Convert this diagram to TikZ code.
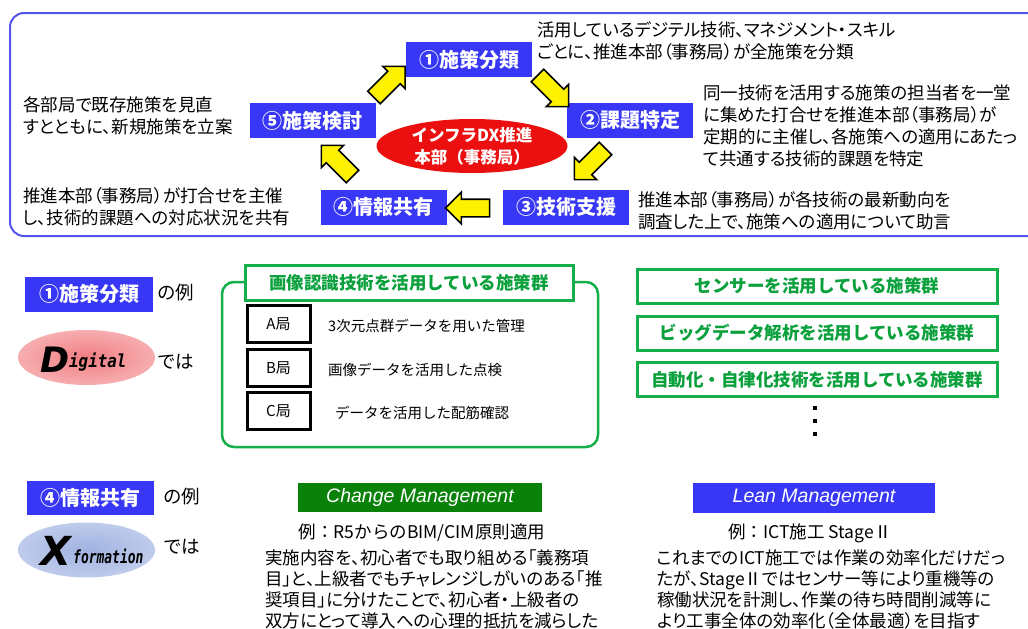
\documentclass[tikz,border=0pt]{standalone}
\usepackage{fontspec}
\usetikzlibrary{shapes.geometric,shapes.arrows}
\setmainfont{Noto Sans CJK JP}
\newfontfamily\jpp{Noto Sans CJK JP}[RawFeature=+palt]
\newfontfamily\latinsans{Liberation Sans}
\newfontfamily\logosans{DejaVu Sans}
\newfontfamily\logomono{DejaVu Sans Mono}
\definecolor{boxblue}{RGB}{55,55,245}
\definecolor{framblue}{RGB}{85,85,235}
\definecolor{hqred}{RGB}{235,15,15}
\definecolor{grline}{RGB}{20,175,75}
\definecolor{grtext}{RGB}{10,160,60}
\definecolor{cmgreen}{RGB}{10,130,10}
\definecolor{pinkin}{RGB}{240,125,130}
\definecolor{pinkout}{RGB}{253,222,222}
\definecolor{bluein}{RGB}{160,178,225}
\definecolor{blueout}{RGB}{222,228,245}
\pgfdeclareradialshading{pinkglow}{\pgfpoint{0bp}{0bp}}{color(0bp)=(pinkin); color(50bp)=(pinkout)}
\pgfdeclareradialshading{blueglow}{\pgfpoint{0bp}{0bp}}{color(0bp)=(bluein); color(50bp)=(blueout)}
\begin{document}
\begin{tikzpicture}[x=1pt,y=-1pt,
 stage/.style={fill=boxblue, text=white, font=\fontsize{20}{24}\selectfont\bfseries, minimum width=126pt, minimum height=35pt, inner sep=0pt},
 desc/.style={font=\jpp\fontsize{17.5}{22}\selectfont, align=left, anchor=west, inner sep=0pt},
 yarr/.style={single arrow, draw=black, line width=1.6pt, fill=yellow, minimum height=44pt, inner sep=0pt, inner ysep=8pt, single arrow head extend=7pt, single arrow head indent=0pt},
 hq/.style={ellipse, fill=hqred, minimum width=191pt, minimum height=54pt, inner sep=0pt},
 hqtext/.style={text=white, font=\fontsize{16.5}{22}\selectfont\bfseries, align=center, inner sep=0pt},
 frame/.style={draw=framblue, line width=2pt, rounded corners=14pt},
 grpbox/.style={draw=grline, line width=2.5pt, rounded corners=12pt, inner sep=0pt},
 gtitle/.style={draw=grline, line width=3pt, fill=white, text=grtext, font=\fontsize{17.5}{20}\selectfont\bfseries, inner sep=0pt},
 bkbox/.style={draw=black, line width=3pt, minimum width=63pt, minimum height=37pt, font=\fontsize{15}{18}\selectfont, inner sep=0pt},
 item/.style={anchor=west, font=\fontsize{14.5}{18}\selectfont, inner sep=0pt},
 aside/.style={anchor=west, font=\fontsize{18.5}{22}\selectfont, inner sep=0pt},
 logo/.style={ellipse, minimum width=137pt, minimum height=55pt, inner sep=0pt},
 bigletter/.style={font=\logosans\bfseries\itshape\fontsize{35}{38}\selectfont, inner sep=0pt, anchor=base},
 smallword/.style={font=\logomono\bfseries\itshape\fontsize{18}{20}\selectfont, inner sep=0pt, anchor=base west},
 mhead/.style={text=white, font=\latinsans\itshape\fontsize{19.5}{22}\selectfont, inner sep=0pt},
 exhead/.style={font=\fontsize{17.5}{21}\selectfont, inner sep=0pt},
 body/.style={desc, font=\jpp\fontsize{17.5}{21}\selectfont}
]
\useasboundingbox (0,0) rectangle (1028,629);
\clip (0,0) rectangle (1028,629);

% ---------- top cycle ----------
\draw[frame] (10,13) rectangle (1050,236);
\node[stage] (s1) at (469,59.5) {①施策分類};
\node[stage] (s2) at (630,120) {②課題特定};
\node[stage] (s3) at (566,207) {③技術支援};
\node[stage] (s4) at (383.5,207) {④情報共有};
\node[stage] (s5) at (312.5,120.5) {⑤施策検討};
\node[hq] (hq) at (472,146) {};
\node[hqtext] (hqt) at (hq.center) {インフラDX推進\\本部（事務局）};

\node[yarr, rotate=45] (a51) at (386.5,85) {};
\node[yarr, rotate=-45] (a12) at (550,88) {};
\node[yarr, rotate=-135] (a23) at (593,161) {};
\node[yarr, rotate=180] (a34) at (472,208) {};
\node[yarr, rotate=135] (a45) at (340,164) {};

\node[desc] (d1) at (537,41) {活用しているデジテル技術、マネジメント・スキル\\ごとに、推進本部（事務局）が全施策を分類};
\node[desc] (d2) at (703,126) {同一技術を活用する施策の担当者を一堂\\に集めた打合せを推進本部（事務局）が\\定期的に主催し、各施策への適用にあたっ\\て共通する技術的課題を特定};
\node[desc] (d3) at (638,210.5) {推進本部（事務局）が各技術の最新動向を\\調査した上で、施策への適用について助言};
\node[desc] (d5) at (23,115.5) {各部局で既存施策を見直\\すとともに、新規施策を立案};
\node[desc] (d4) at (23,207) {推進本部（事務局）が打合せを主催\\し、技術的課題への対応状況を共有};

% ---------- Digital example ----------
\node[stage, minimum width=128pt] (e1) at (89,294) {①施策分類};
\node[aside] (e1r) at (157,293) {の例};
\node[logo, shading=pinkglow] (dlg) at (86.5,357.5) {};
\node[bigletter] (dD) at (55,372) {D};
\node[smallword] (dw) at (69,367) {\scalebox{0.88}[1]{igital}};
\node[aside] (dr) at (157,362) {では};

\node[grpbox, minimum width=376pt, minimum height=165pt] (grp) at (410,364.5) {};
\node[gtitle, minimum width=328pt, minimum height=35pt] (grpt) at (409,282.5) {画像認識技術を活用している施策群};
\node[bkbox] (ka) at (278.5,324) {A局};
\node[bkbox] (kb) at (278.5,368) {B局};
\node[bkbox] (kc) at (278.5,411) {C局};
\node[item] (la) at (328,326) {3次元点群データを用いた管理};
\node[item] (lb) at (328,370) {画像データを活用した点検};
\node[item] (lc) at (335,413) {データを活用した配筋確認};

\node[gtitle, minimum width=360pt, minimum height=34pt] (g1) at (817,286) {センサーを活用している施策群};
\node[gtitle, minimum width=360pt, minimum height=34pt] (g2) at (817,333) {ビッグデータ解析を活用している施策群};
\node[gtitle, minimum width=360pt, minimum height=34pt] (g3) at (817,379.5) {自動化・自律化技術を活用している施策群};
\foreach \yy in {408,421,434} \fill (813,\yy-2) rectangle +(4,4);

% ---------- Xformation example ----------
\node[stage, minimum width=127pt, minimum height=34pt] (e4) at (90.5,498) {④情報共有};
\node[aside] (e4r) at (163,497) {の例};
\node[logo, shading=blueglow] (xlg) at (86.5,550) {};
\node[bigletter, font=\logosans\bfseries\itshape\fontsize{40}{44}\selectfont] (xX) at (56,565) {X};
\node[smallword] (xw) at (73,563) {\scalebox{0.72}[1]{formation}};
\node[aside] (xr) at (163,547) {では};

\node[mhead, fill=cmgreen, minimum width=244pt, minimum height=29pt] (cm) at (420,497.5) {Change Management};
\node[mhead, fill=boxblue, minimum width=242pt, minimum height=30pt] (lm) at (814,498) {Lean Management};
\node[exhead] (cmx) at (422,533) {例：R5からのBIM/CIM原則適用};
\node[body] (cmb) at (265,589.5) {実施内容を、初心者でも取り組める「義務項\\目」と、上級者でもチャレンジしがいのある「推\\奨項目」に分けたことで、初心者・上級者の\\双方にとって導入への心理的抵抗を減らした};
\node[exhead] (lmx) at (810,533) {例：ICT施工 StageⅡ};
\node[body] (lmb) at (657,589.5) {これまでのICT施工では作業の効率化だけだっ\\たが、StageⅡではセンサー等により重機等の\\稼働状況を計測し、作業の待ち時間削減等に\\より工事全体の効率化（全体最適）を目指す};
\end{tikzpicture}
\end{document}
